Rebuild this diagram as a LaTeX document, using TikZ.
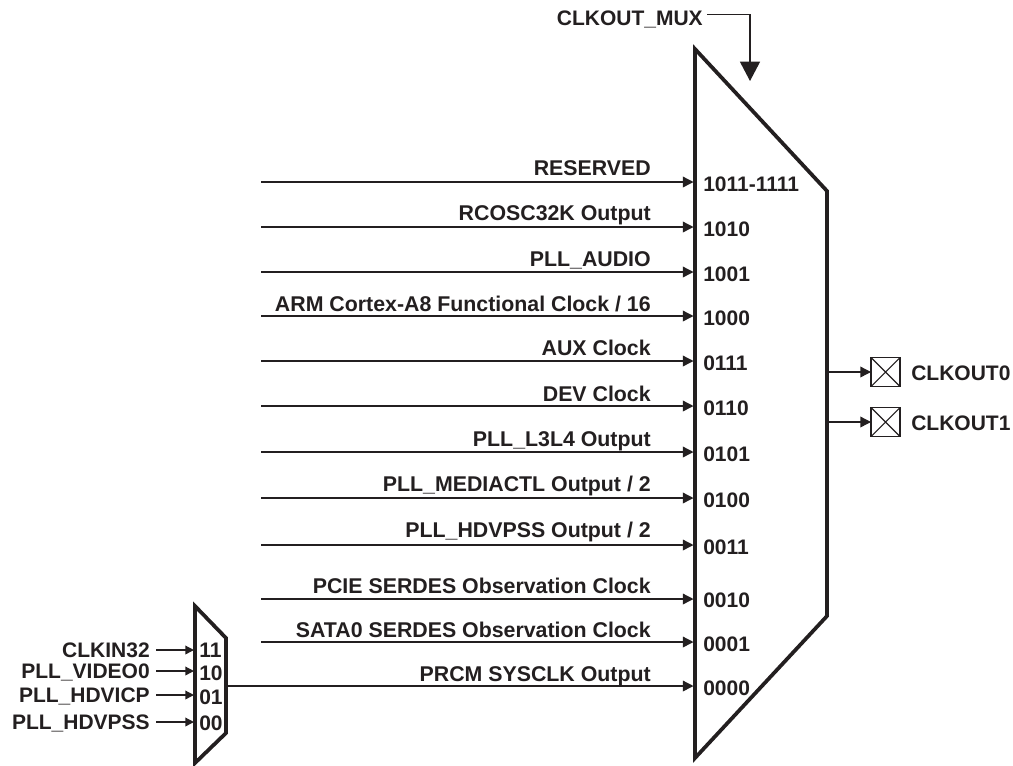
\documentclass[tikz,border=0pt]{standalone}
\usepackage{fontspec}
\setmainfont{Liberation Sans}
\usetikzlibrary{arrows.meta}
\definecolor{ink}{HTML}{231F20}
\tikzset{
  px/.style={x=0.75pt,y=-0.75pt},
  lbl/.style={font=\fontsize{15.75pt}{18pt}\selectfont\bfseries,text=ink,inner sep=0pt},
  inlbl/.style={lbl,font=\fontsize{16pt}{18pt}\selectfont\bfseries,anchor=base east},
  portlbl/.style={lbl,anchor=base west},
  wire/.style={draw=ink,line width=1pt,-{Triangle[length=8pt,width=8pt]}},
  muxbody/.style={draw=ink,line width=2.8pt,line join=miter,miter limit=3},
  pin/.style={draw=ink,line width=1pt,minimum width=21.75pt,minimum height=21.75pt,inner sep=0pt,outer sep=0pt}
}
\newcommand{\feed}[4]{%
  \coordinate (s#1) at (261,#2);
  \coordinate (p#1) at (693.5,#2);
  \draw[wire] (s#1) -- (p#1);
  \node[inlbl] (t#1) at (#3) {#4};
}
\begin{document}
\begin{tikzpicture}[px]
\useasboundingbox (0,0) rectangle (1013,765);
% large mux
\coordinate (mA) at (695,49);
\coordinate (mB) at (827,191);
\coordinate (mC) at (827,616);
\coordinate (mD) at (695,758);
\draw[muxbody] (mA) -- (mB) -- (mC) -- (mD) -- cycle;
% selector
\node[lbl,anchor=base east] (muxname) at (703,25) {CLKOUT\_MUX};
\coordinate (selA) at (707,14.5);
\coordinate (selB) at (750,14.5);
\coordinate (selC) at (750,81);
\draw[draw=ink,line width=1pt,-{Triangle[length=14.5pt,width=15pt]}] (selA) -- (selB) -- (selC);
% inputs
\feed{a}{182}{651,175}{RESERVED}
\feed{b}{227}{651,220}{RCOSC32K Output}
\feed{c}{272}{651,266}{PLL\_AUDIO}
\feed{d}{316}{651,311}{ARM Cortex-A8 Functional Clock / 16}
\feed{e}{361}{651,355}{AUX Clock}
\feed{f}{406}{651,401}{DEV Clock}
\feed{g}{452}{651,446}{PLL\_L3L4 Output}
\feed{h}{498}{651,491}{PLL\_MEDIACTL Output / 2}
\feed{i}{545}{651,537}{PLL\_HDVPSS Output / 2}
\feed{j}{599}{651,593}{PCIE SERDES Observation Clock}
\feed{k}{642}{651,637}{SATA0 SERDES Observation Clock}
\node[inlbl] (tl) at (651,681) {PRCM SYSCLK Output};
% port numbers
\node[portlbl] (na) at (703,191) {1011-1111};
\node[portlbl] (nb) at (703,236) {1010};
\node[portlbl] (nc) at (703,281) {1001};
\node[portlbl] (nd) at (703,325) {1000};
\node[portlbl] (ne) at (703,370) {0111};
\node[portlbl] (nf) at (703,415) {0110};
\node[portlbl] (ng) at (703,461) {0101};
\node[portlbl] (nh) at (703,507) {0100};
\node[portlbl] (ni) at (703,554) {0011};
\node[portlbl] (nj) at (703,607) {0010};
\node[portlbl] (nk) at (703,651) {0001};
\node[portlbl] (nl) at (703,695) {0000};
% small mux
\coordinate (uA) at (195,606);
\coordinate (uB) at (226,638);
\coordinate (uC) at (226,733);
\coordinate (uD) at (195,763);
\draw[muxbody] (uA) -- (uB) -- (uC) -- (uD) -- cycle;
\coordinate (uOut) at (226,686);
\coordinate (pl) at (693.5,686);
\draw[wire] (uOut) -- (pl);
\foreach \nm/\txt/\yy/\base/\code in {
  q/CLKIN32/650/657/11,
  r/PLL\_VIDEO0/671/680/10,
  s/PLL\_HDVICP/695/704/01,
  t/PLL\_HDVPSS/722/730/00}{
  \node[lbl,anchor=base east] (src\nm) at (150,\yy+7) {\txt};
  \coordinate (w\nm) at (156,\yy);
  \coordinate (x\nm) at (194,\yy);
  \draw[draw=ink,line width=1pt,-{Triangle[length=6.5pt,width=6.5pt]}] (w\nm) -- (x\nm);
  \node[portlbl] (sel\nm) at (199,\base) {\code};
}
% outputs
\node[pin] (pin0) at (885.5,372) {};
\node[pin] (pin1) at (885.5,422) {};
\draw[draw=ink,line width=.8pt] (pin0.north west) -- (pin0.south east) (pin0.north east) -- (pin0.south west);
\draw[draw=ink,line width=.8pt] (pin1.north west) -- (pin1.south east) (pin1.north east) -- (pin1.south west);
\coordinate (o0) at (827,372);
\coordinate (o1) at (827,422);
\draw[wire] (o0) -- (pin0.west);
\draw[wire] (o1) -- (pin1.west);
\node[portlbl] (co0) at (911,380) {CLKOUT0};
\node[portlbl] (co1) at (911,430) {CLKOUT1};
\end{tikzpicture}
\end{document}
